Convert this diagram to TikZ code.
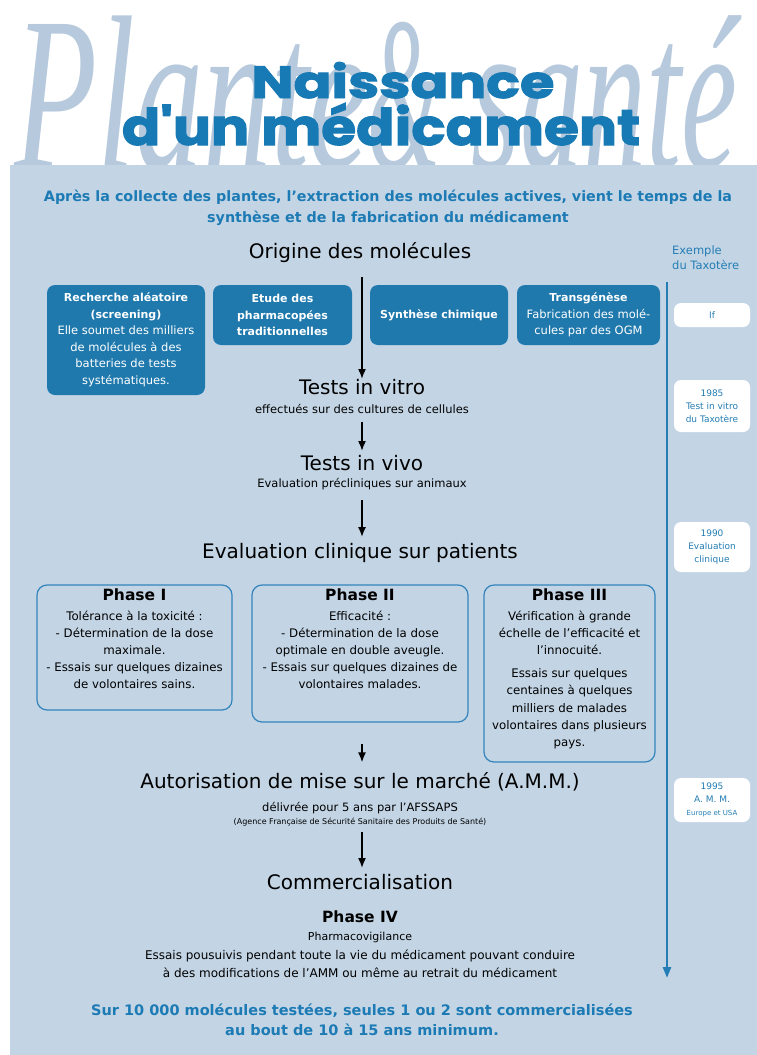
\documentclass[tikz,border=0pt]{standalone}
\usepackage{fontspec}
\setmainfont{DejaVu Sans}
\newfontfamily\titlefont{Poppins}[BoldFeatures={FakeBold=2}]
\newfontfamily\wmfont{Liberation Serif}
\usetikzlibrary{arrows.meta}
\definecolor{bgblue}{RGB}{195,213,229}
\definecolor{wmblue}{RGB}{182,201,221}
\definecolor{titleblue}{RGB}{24,122,180}
\definecolor{boxblue}{RGB}{31,121,173}
\definecolor{introblue}{RGB}{28,122,180}
\definecolor{lineblue}{RGB}{36,125,180}
\definecolor{phaseblue}{RGB}{52,132,188}
\tikzset{
 head/.style={inner sep=0pt, font=\fontsize{20}{24}\selectfont},
 sub/.style={inner sep=0pt, font=\fontsize{11.5}{13}\selectfont},
 darkbox/.style={fill=boxblue, rounded corners=8pt, text=white, align=center, inner sep=2pt, font=\fontsize{11.5}{16.5}\selectfont},
 boxhead/.style={font=\fontsize{11}{16.5}\selectfont\bfseries},
 phasebox/.style={draw=phaseblue, line width=1.2pt, rounded corners=10pt},
 phasetext/.style={align=center, inner sep=0pt, font=\fontsize{11.8}{17.2}\selectfont, anchor=north},
 flow/.style={line width=1.8pt, -{Latex[length=10pt,width=8pt]}},
 tlbox/.style={fill=white, rounded corners=7pt, minimum width=76pt, inner sep=0pt},
 tltext/.style={text=lineblue, align=center, font=\fontsize{9}{13}\selectfont, inner sep=0pt},
}
\begin{document}
\begin{tikzpicture}[x=1pt,y=-1pt]
\useasboundingbox (0,0) rectangle (757,1055);
\fill[white] (0,0) rectangle (757,1055);
% watermark
\node[anchor=base west, inner sep=0pt, text=wmblue] (wm) at (14,168)
  {\raisebox{0pt}[145pt][0pt]{\wmfont\itshape\fontsize{100}{100}\selectfont
   \scalebox{1.36}[2.2]{Plante}\hspace{-2pt}\scalebox{0.95}[2.2]{\&}\hspace{30pt}\scalebox{1.26}[2.2]{santé}}};
% title
\node[anchor=base, inner sep=0pt, text=titleblue] (t1) at (403,98)
  {\resizebox{303pt}{36pt}{\titlefont\bfseries Naissance}};
\node[anchor=base, inner sep=0pt, text=titleblue] (t2) at (381,145)
  {\resizebox{518pt}{42pt}{\titlefont\bfseries d'un médicament}};
% panel
\fill[bgblue] (10,165) rectangle (757,1055);
% intro
\node[text=introblue, align=center, inner sep=0pt, font=\fontsize{14.3}{21}\selectfont\bfseries] (intro) at (388,208)
  {Après la collecte des plantes, l'extraction des molécules actives, vient le temps de la\\synthèse et de la fabrication du médicament};
% origine
\node[head] (origine) at (360,253) {Origine des molécules};
\node[darkbox, minimum width=158pt, minimum height=110pt] (b1) at (126,340)
  {\textbf{\fontsize{11}{16.5}\selectfont Recherche aléatoire}\\\textbf{\fontsize{11}{16.5}\selectfont (screening)}\\Elle soumet des milliers\\de molécules à des\\batteries de tests\\systématiques.};
\node[darkbox, boxhead, minimum width=139pt, minimum height=60pt] (b2) at (282.5,315)
  {Etude des\\pharmacopées\\traditionnelles};
\node[darkbox, boxhead, minimum width=138pt, minimum height=60pt] (b3) at (439,315)
  {Synthèse chimique};
\node[darkbox, minimum width=143pt, minimum height=60pt] (b4) at (588.5,315)
  {\textbf{\fontsize{11}{16.5}\selectfont Transgénèse}\\Fabrication des molé-\\cules par des OGM};
% tests
\node[head] (vitro) at (362,387) {Tests in vitro};
\node[sub] (vitrosub) at (362,409) {effectués sur des cultures de cellules};
\node[head] (vivo) at (362,463) {Tests in vivo};
\node[sub] (vivosub) at (362,484) {Evaluation précliniques sur animaux};
\node[head] (clin) at (360,553) {Evaluation clinique sur patients};
% phases
\node[phasebox, minimum width=195pt, minimum height=125pt] (p1) at (134.5,647.5) {};
\node[phasebox, minimum width=216pt, minimum height=137pt] (p2) at (360,653.5) {};
\node[phasebox, minimum width=171pt, minimum height=177pt] (p3) at (569.5,673.5) {};
\node[phasetext] (p1t) at (134.5,589)
  {\textbf{\fontsize{15.5}{17}\selectfont Phase I}\\[2pt]Tolérance à la toxicité :\\- Détermination de la dose\\maximale.\\- Essais sur quelques dizaines\\de volontaires sains.};
\node[phasetext] (p2t) at (360,589)
  {\textbf{\fontsize{15.5}{17}\selectfont Phase II}\\[2pt]Efficacité :\\- Détermination de la dose\\optimale en double aveugle.\\- Essais sur quelques dizaines de\\volontaires malades.};
\node[phasetext] (p3t) at (569.5,589)
  {\textbf{\fontsize{15.5}{17}\selectfont Phase III}\\[2pt]Vérification à grande\\échelle de l'efficacité et\\l'innocuité.\\[6pt]Essais sur quelques\\centaines à quelques\\milliers de malades\\volontaires dans plusieurs\\pays.};
% AMM
\node[head] (amm) at (360,782) {Autorisation de mise sur le marché (A.M.M.)};
\node[sub] (ammsub) at (360,808) {délivrée pour 5 ans par l'AFSSAPS};
\node[inner sep=0pt, font=\fontsize{8}{9}\selectfont] (ammsub2) at (360,822) {(Agence Française de Sécurité Sanitaire des Produits de Santé)};
\node[head] (comm) at (360,882) {Commercialisation};
\node[inner sep=0pt, font=\fontsize{15.5}{17}\selectfont\bfseries] (ph4) at (360,917) {Phase IV};
\node[sub, font=\fontsize{11}{13}\selectfont] (ph4a) at (360,937) {Pharmacovigilance};
\node[sub, align=center, font=\fontsize{12}{18}\selectfont] (ph4b) at (360,964)
  {Essais pousuivis pendant toute la vie du médicament pouvant conduire\\à des modifications de l'AMM ou même au retrait du médicament};
\node[text=introblue, align=center, inner sep=0pt, font=\fontsize{14.5}{20}\selectfont\bfseries] (concl) at (362,1020)
  {Sur 10 000 molécules testées, seules 1 ou 2 sont commercialisées\\au bout de 10 à 15 ans minimum.};
% flow arrows
\draw[flow, shorten <=14pt] (vitro.north |- origine.south) -- (vitro.north);
\draw[flow, shorten <=8pt, shorten >=4pt] (vitrosub.south -| vitro) -- (vivo.north);
\draw[flow, shorten <=10pt, shorten >=6pt] (vivosub.south -| vitro) -- (clin.north -| vitro);
\draw[flow, shorten <=21pt, shorten >=10pt] (p2.south -| vitro) -- (amm.north -| vitro);
\draw[flow, shorten <=6pt, shorten >=6pt] (ammsub2.south -| vitro) -- (comm.north -| vitro);
% timeline
\node[tltext, align=left, anchor=north west, font=\fontsize{11.5}{15}\selectfont] (ex) at (672,246) {Exemple\\du Taxotère};
\coordinate (tltop) at (667,282);
\coordinate (tlbot) at (667,978);
\draw[lineblue, line width=2.5pt, -{Triangle[length=11pt,width=8pt]}] (tltop) -- (tlbot);
\node[tlbox, tltext, minimum height=24pt] (tlif) at (712,315) {If};
\node[tlbox, tltext, minimum height=52pt] (tl85) at (712,406) {1985\\Test in vitro\\du Taxotère};
\node[tlbox, tltext, minimum height=50pt] (tl90) at (712,547) {1990\\Evaluation\\clinique};
\node[tlbox, tltext, minimum height=44pt] (tl95) at (712,800) {1995\\A. M. M.\\\textcolor{lineblue}{\fontsize{7}{9}\selectfont Europe et USA}};
\end{tikzpicture}
\end{document}
